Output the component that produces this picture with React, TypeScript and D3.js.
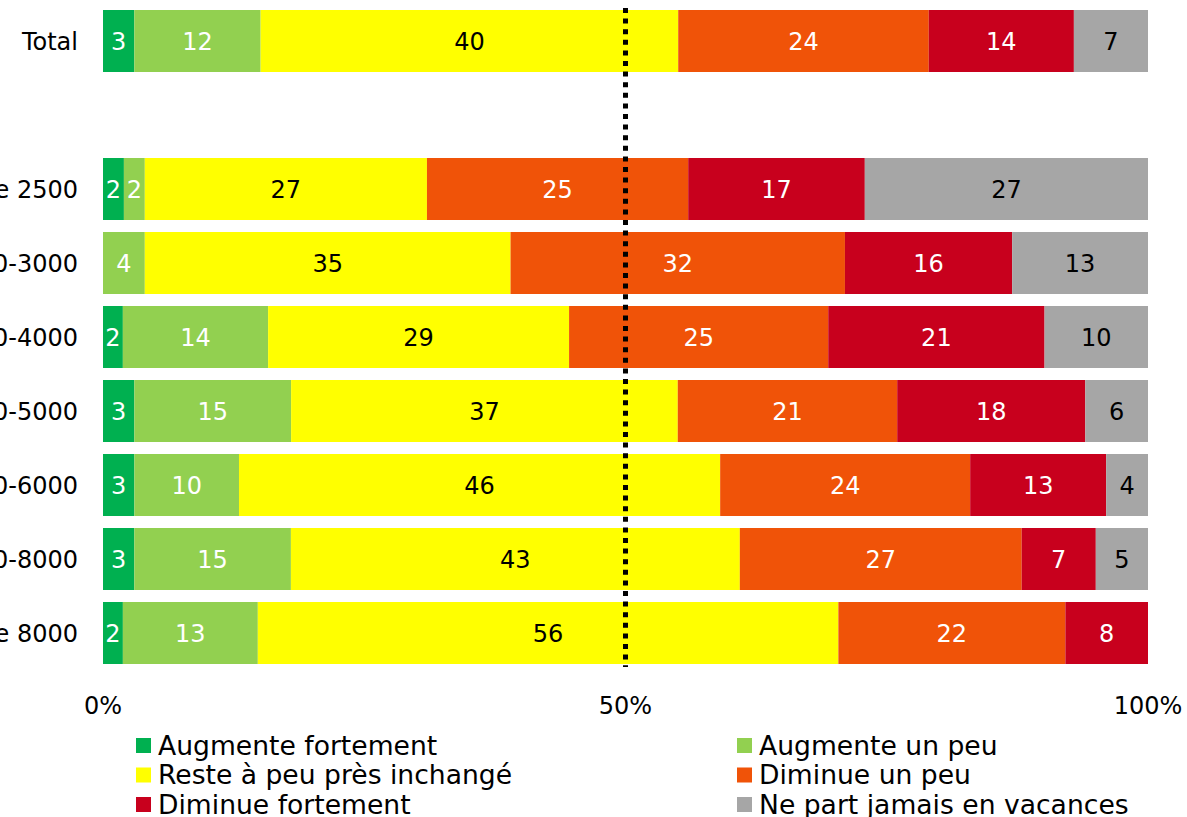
import React from "react";
import * as d3 from "d3";

// categories top to bottom ("gap" is the empty slot under Total)
const rows = [
	"Total",
	"gap",
	"Moins de 2500",
	"2500-3000",
	"3000-4000",
	"4000-5000",
	"5000-6000",
	"6000-8000",
	"Plus de 8000",
];

const series = [
	"Augmente fortement",
	"Augmente un peu",
	"Reste à peu près inchangé",
	"Diminue un peu",
	"Diminue fortement",
	"Ne part jamais en vacances",
];

const colors = ["#00b050", "#92d050", "#ffff00", "#f05308", "#c8001d", "#a6a6a6"];
const darkText = [false, false, true, false, false, true];

// one array per series, in the order of rows (gap = 0)
const augmenteFort = [3.0, 0, 2.0, 0, 1.9, 3.0, 3.0, 3.0, 1.9];
const augmentePeu = [12.1, 0, 2.0, 4.0, 13.9, 15.0, 10.0, 15.0, 12.9];
const inchange = [40.0, 0, 27.0, 35.0, 28.8, 37.0, 46.0, 43.0, 55.5];
const diminuePeu = [24.0, 0, 25.0, 32.0, 24.8, 21.0, 23.9, 27.0, 21.7];
const diminueFort = [13.9, 0, 16.9, 16.0, 20.7, 18.0, 13.0, 7.1, 7.9];
const jamais = [7.1, 0, 27.1, 13.0, 9.9, 6.0, 4.0, 5.0, 0];

const xTicks = [0, 0.5, 1];

const W = 1187;
const H = 817;
const margin = { left: 103, right: 39, top: 4 };
const font = "'DejaVu Sans', Verdana, sans-serif";

export default function App() {
	const values = [augmenteFort, augmentePeu, inchange, diminuePeu, diminueFort, jamais];
	const table = rows.map((r, i) => {
		const o: Record<string, any> = { row: r };
		series.forEach((s, j) => (o[s] = values[j][i]));
		return o;
	});
	const realRows = table.filter((d) => d.row !== "gap");

	const stacked = d3
		.stack<any>()
		.keys(series)
		.offset(d3.stackOffsetExpand)(realRows);

	const x = d3.scaleLinear().domain([0, 1]).range([margin.left, W - margin.right]);
	const y = d3
		.scaleBand<string>()
		.domain(rows)
		.range([margin.top, margin.top + 74 * rows.length])
		.paddingInner(12 / 74)
		.paddingOuter(6 / 74);

	const bw = y.bandwidth();

	return (
		<svg
			width={W}
			height={H}
			style={{ position: "absolute", left: 0, top: 0, fontFamily: font }}>
			{stacked.map((layer, j) => (
				<g key={series[j]}>
					{layer.map((seg) => {
						const row = seg.data.row as string;
						const v = seg.data[series[j]] as number;
						if (!v) return null;
						const x0 = x(seg[0]);
						const x1 = x(seg[1]);
						const yy = y(row) || 0;
						return (
							<g key={row}>
								<rect x={x0} y={yy} width={x1 - x0} height={bw} fill={colors[j]} />
								<text
									x={(x0 + x1) / 2}
									y={yy + bw / 2}
									dy="0.36em"
									textAnchor="middle"
									fontSize={24}
									fill={darkText[j] ? "#000" : "#fff"}>
									{Math.round(v)}
								</text>
							</g>
						);
					})}
				</g>
			))}

			{/* category labels, cut by the left edge like the original */}
			{realRows.map((d) => (
				<text
					key={d.row}
					x={margin.left - 25}
					y={(y(d.row) || 0) + bw / 2}
					dy="0.36em"
					textAnchor="end"
					fontSize={24}
					fill="#000">
					{d.row}
				</text>
			))}

			{/* 50% reference line */}
			<line
				x1={x(0.5)}
				x2={x(0.5)}
				y1={8}
				y2={667}
				stroke="#000"
				strokeWidth={5}
				strokeDasharray="5,5.6"
			/>

			{xTicks.map((t) => (
				<text
					key={t}
					x={x(t)}
					y={714}
					textAnchor="middle"
					fontSize={24}
					fill="#000">
					{d3.format(".0%")(t)}
				</text>
			))}

			{/* legend, two columns */}
			{series.map((s, j) => {
				const col = j % 2;
				const r = Math.floor(j / 2);
				const lx = col === 0 ? 136 : 737;
				const ly = 745 + r * 29.5;
				return (
					<g key={s} transform={`translate(${lx}, ${ly})`}>
						<rect x={0} y={-7} width={15} height={15} fill={colors[j]} />
						<text x={22} y={0} dy="0.36em" fontSize={26.6} fill="#000">
							{s}
						</text>
					</g>
				);
			})}
		</svg>
	);
}
